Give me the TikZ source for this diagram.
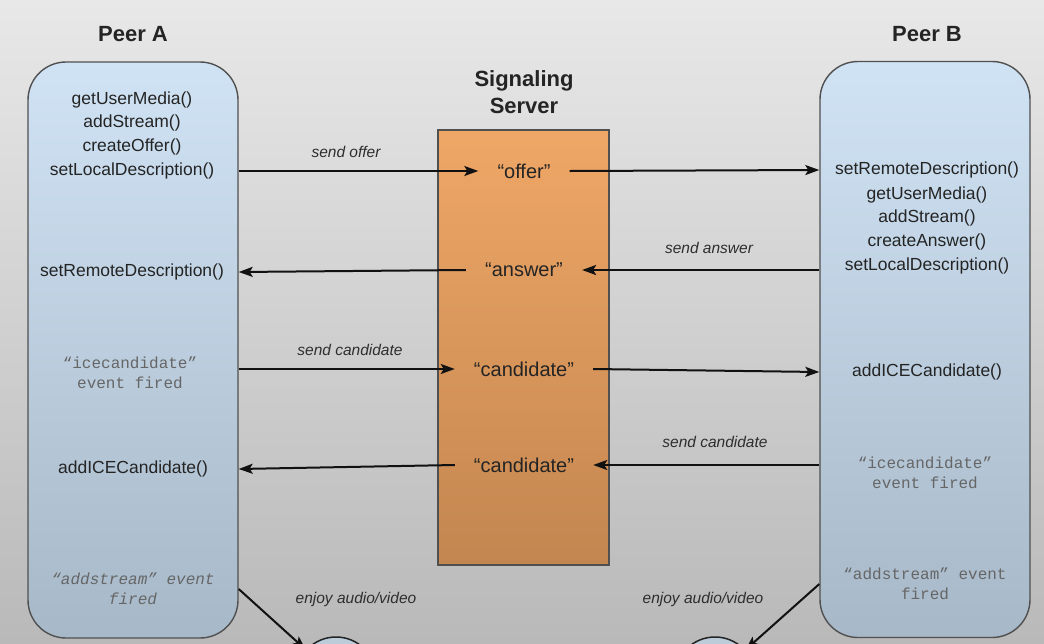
\documentclass[tikz,border=0pt]{standalone}
\usepackage{fontspec}
\setmainfont{Liberation Sans}
\newfontfamily\monof{Liberation Mono}
\usetikzlibrary{arrows.meta}
\definecolor{bgtop}{HTML}{E8E8E8}
\definecolor{bgbot}{HTML}{B9B9B9}
\definecolor{peertop}{HTML}{D0E3F4}
\definecolor{peerbot}{HTML}{A7B8C8}
\definecolor{srvtop}{HTML}{EFA766}
\definecolor{srvbot}{HTML}{C38650}
\definecolor{boxline}{HTML}{505050}
\definecolor{fnc}{HTML}{242424}
\definecolor{evc}{HTML}{666666}
\definecolor{lblc}{HTML}{2E2E2E}
\definecolor{arrc}{HTML}{111111}
\definecolor{ballc}{HTML}{BCCCD8}
\begin{document}
\begin{tikzpicture}[x=1pt,y=-1pt,
  peer/.style={draw=boxline, line width=1.4pt, rounded corners=38pt, top color=peertop, bottom color=peerbot, minimum width=210pt, minimum height=576pt, inner sep=0pt},
  server/.style={draw=boxline, line width=1.2pt, top color=srvtop, bottom color=srvbot, minimum width=171pt, minimum height=435pt, inner sep=0pt},
  title/.style={font=\fontsize{22}{27}\selectfont\bfseries, text=fnc, align=center},
  fn/.style={font=\fontsize{17.5}{20}\selectfont, text=fnc},
  ev/.style={font=\monof\fontsize{16}{20}\selectfont, text=evc, align=center},
  evi/.style={font=\monof\itshape\fontsize{16}{20}\selectfont, text=evc, align=center},
  msg/.style={font=\fontsize{20}{24}\selectfont, text=fnc, inner xsep=19pt},
  lbl/.style={font=\itshape\fontsize{15.5}{18}\selectfont, text=lblc},
  arr/.style={-{Stealth[length=14pt,width=10pt,inset=3pt]}, line width=2pt, draw=arrc},
  ball/.style={circle, draw=fnc, fill=ballc, minimum size=80pt, line width=1.5pt, inner sep=0pt}
]
\useasboundingbox (0,0) rectangle (1044,643);
\clip (0,0) rectangle (1044,643);
\shade[top color=bgtop, bottom color=bgbot] (0,0) rectangle (1044,643);

% titles
\node[title] (tA) at (133,34) {Peer A};
\node[title] (tB) at (927,34) {Peer B};
\node[title] (tS) at (524,92.5) {Signaling\\Server};

% boxes
\node[peer] (A) at (133,350) {};
\node[peer] (B) at (925,349.5) {};
\node[server] (S) at (523.5,347.5) {};

% Peer A texts
\node[fn] (gumA) at (132,100) {getUserMedia()};
\node[fn] (asA) at (132,123) {addStream()};
\node[fn] (coA) at (132,147) {createOffer()};
\node[fn] (sldA) at (132,171) {setLocalDescription()};
\node[fn] (srdA) at (132,272) {setRemoteDescription()};
\node[ev] (iceA) at (130,373) {“icecandidate”\\event fired};
\node[fn] (aicA) at (133,469) {addICECandidate()};
\node[evi] (astA) at (133,589) {“addstream” event\\fired};

% Peer B texts
\node[fn] (srdB) at (927,170) {setRemoteDescription()};
\node[fn] (gumB) at (927,195) {getUserMedia()};
\node[fn] (asB) at (927,218) {addStream()};
\node[fn] (caB) at (927,242) {createAnswer()};
\node[fn] (sldB) at (927,266) {setLocalDescription()};
\node[fn] (aicB) at (927,372) {addICECandidate()};
\node[ev] (iceB) at (925,473) {“icecandidate”\\event fired};
\node[ev] (astB) at (925,584) {“addstream” event\\fired};

% server messages
\node[msg] (offer) at (524,171) {“offer”};
\node[msg] (answer) at (524,270) {“answer”};
\node[msg] (cand1) at (524,369) {“candidate”};
\node[msg] (cand2) at (524,465) {“candidate”};

% arrow labels
\node[lbl] (l1) at (346,152) {send offer};
\node[lbl] (l2) at (709,248) {send answer};
\node[lbl] (l3) at (350,350) {send candidate};
\node[lbl] (l4) at (715,442) {send candidate};
\node[lbl] (l5) at (356,599) {enjoy audio/video};
\node[lbl] (l6) at (703,599) {enjoy audio/video};

% balls at bottom
\node[ball] (cA) at (336,677) {};
\node[ball] (cB) at (715,677) {};

% connectors
\draw[arr] (A.east |- sldA) -- (offer.west);
\draw[arr] (offer.east) -- (B.west |- srdB);
\draw[arr] (B.west |- answer) -- (answer.east);
\draw[arr] (answer.west) -- (A.east |- srdA);
\draw[arr] (A.east |- cand1) -- (cand1.west);
\draw[arr] (cand1.east) -- (B.west |- aicB);
\draw[arr] (B.west |- cand2) -- (cand2.east);
\draw[arr] (cand2.west) -- (A.east |- aicA);
\draw[arr] (A.east |- astA) -- (cA);
\draw[arr] (B.west |- astB) -- (cB);
\end{tikzpicture}
\end{document}
